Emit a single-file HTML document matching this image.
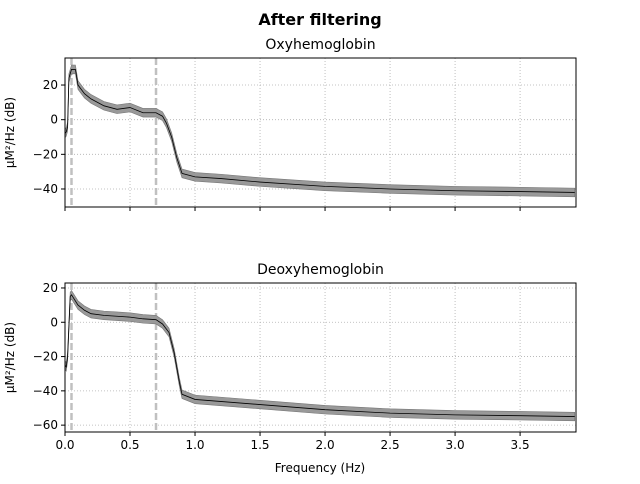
<!DOCTYPE html>
<html><head><meta charset="utf-8"><style>
body{margin:0;background:#fff;font-family:"DejaVu Sans","Liberation Sans",sans-serif}
svg text{font-family:"DejaVu Sans","Liberation Sans",sans-serif}
</style></head><body>
<svg id="c" width="640" height="480" xmlns="http://www.w3.org/2000/svg">
<text x="320" y="25" text-anchor="middle" font-size="16" font-weight="bold">After filtering</text>
</svg>
<script>
const xTicks=[0,0.5,1.0,1.5,2.0,2.5,3.0,3.5];
const xTickLabels=["0.0","0.5","1.0","1.5","2.0","2.5","3.0","3.5"];
const oxyFreq=[0,0.01,0.02,0.03,0.05,0.08,0.1,0.15,0.2,0.3,0.4,0.5,0.6,0.7,0.75,0.78,0.82,0.86,0.9,1.0,1.2,1.5,2.0,2.5,3.0,3.5,3.92];
const oxyPower=[-8,-7,-4,24,29,29,20,15,12,8,6,7,4,4,2,-2,-10,-22,-31,-33,-34,-36,-38.5,-40,-41,-41.5,-42];
const deoxyFreq=[0,0.01,0.02,0.04,0.05,0.1,0.15,0.2,0.3,0.4,0.5,0.6,0.7,0.75,0.8,0.84,0.88,0.9,1.0,1.5,2.0,2.5,3.0,3.5,3.92];
const deoxyPower=[-25,-26,-20,15,16,10,7,5,4,3.5,3,2,1.5,-1,-6,-18,-35,-42,-45,-48,-51,-53,-54,-54.5,-55];
const oxyYTicks=[20,0,-20,-40];
const deoxyYTicks=[20,0,-20,-40,-60];
const bandHalf=2.5;
const filterLines=[0.05,0.7];
const svg=document.getElementById('c');
const NS='http://www.w3.org/2000/svg';
function mk(t,a,p){const e=document.createElementNS(NS,t);for(const k in a)e.setAttribute(k,a[k]);(p||svg).appendChild(e);return e;}
function panel(name,title,top,bot,ymax,ymin,freq,pow,yt,showX){
  const L=65,R=576,xmax=3.93;
  const X=f=>L+(f/xmax)*(R-L);
  const Y=v=>top+(ymax-v)/(ymax-ymin)*(bot-top);
  const g=mk('g',{});
  
  
  xTicks.forEach(t=>{mk('line',{x1:X(t),x2:X(t),y1:top,y2:bot,stroke:'#b0b0b0','stroke-dasharray':'1,2','stroke-width':0.8},g);});
  yt.forEach(t=>{mk('line',{x1:L,x2:R,y1:Y(t),y2:Y(t),stroke:'#b0b0b0','stroke-dasharray':'1,2','stroke-width':0.8},g);});
  filterLines.forEach(f=>{const l=mk('line',{x1:X(f),x2:X(f),y1:top,y2:bot,stroke:'#c0c0c0','stroke-dasharray':'7,3','stroke-width':2.5},g);
    
    });
  let up='',dn='';
  freq.forEach((f,i)=>{up+=(i?'L':'M')+X(f)+','+Y(pow[i]+bandHalf);});
  for(let i=freq.length-1;i>=0;i--)dn+='L'+X(freq[i])+','+Y(pow[i]-bandHalf);
  const band=mk('path',{d:up+dn+'Z',fill:'#999',stroke:'#777','stroke-width':0.6},g);
  
  
  let d='';freq.forEach((f,i)=>{d+=(i?'L':'M')+X(f)+','+Y(pow[i]);});
  const ln=mk('path',{d:d,fill:'none',stroke:'#000','stroke-width':0.8},g);
  
  
  mk('rect',{x:L,y:top,width:R-L,height:bot-top,fill:'none',stroke:'#000','stroke-width':1},g);
  yt.forEach(t=>{mk('line',{x1:L-4,x2:L,y1:Y(t),y2:Y(t),stroke:'#000'},g);
    const tx=mk('text',{x:L-7,y:Y(t)+4,'text-anchor':'end','font-size':12},g);tx.textContent=(t<0?'\u2212'+(-t):t);
    
    });
  xTicks.forEach((t,i)=>{mk('line',{x1:X(t),x2:X(t),y1:bot,y2:bot+4,stroke:'#000'},g);
    if(showX){const tx=mk('text',{x:X(t),y:bot+17,'text-anchor':'middle','font-size':12},g);tx.textContent=xTickLabels[i];
    
    }});
  const tt=mk('text',{x:(L+R)/2,y:top-9,'text-anchor':'middle','font-size':14},g);tt.textContent=title;
  
  
  const yl=mk('text',{x:0,y:0,'text-anchor':'middle','font-size':12,transform:`translate(14,${(top+bot)/2}) rotate(-90)`},g);yl.textContent='µM²/Hz (dB)';
  
  
}
panel('oxy','Oxyhemoglobin',58,207,35.6,-50.4,oxyFreq,oxyPower,oxyYTicks,false);
panel('deoxy','Deoxyhemoglobin',283,432,22.9,-64,deoxyFreq,deoxyPower,deoxyYTicks,true);
const xl=mk('text',{x:320,y:472,'text-anchor':'middle','font-size':12});xl.textContent='Frequency (Hz)';


</script>
</body></html>
